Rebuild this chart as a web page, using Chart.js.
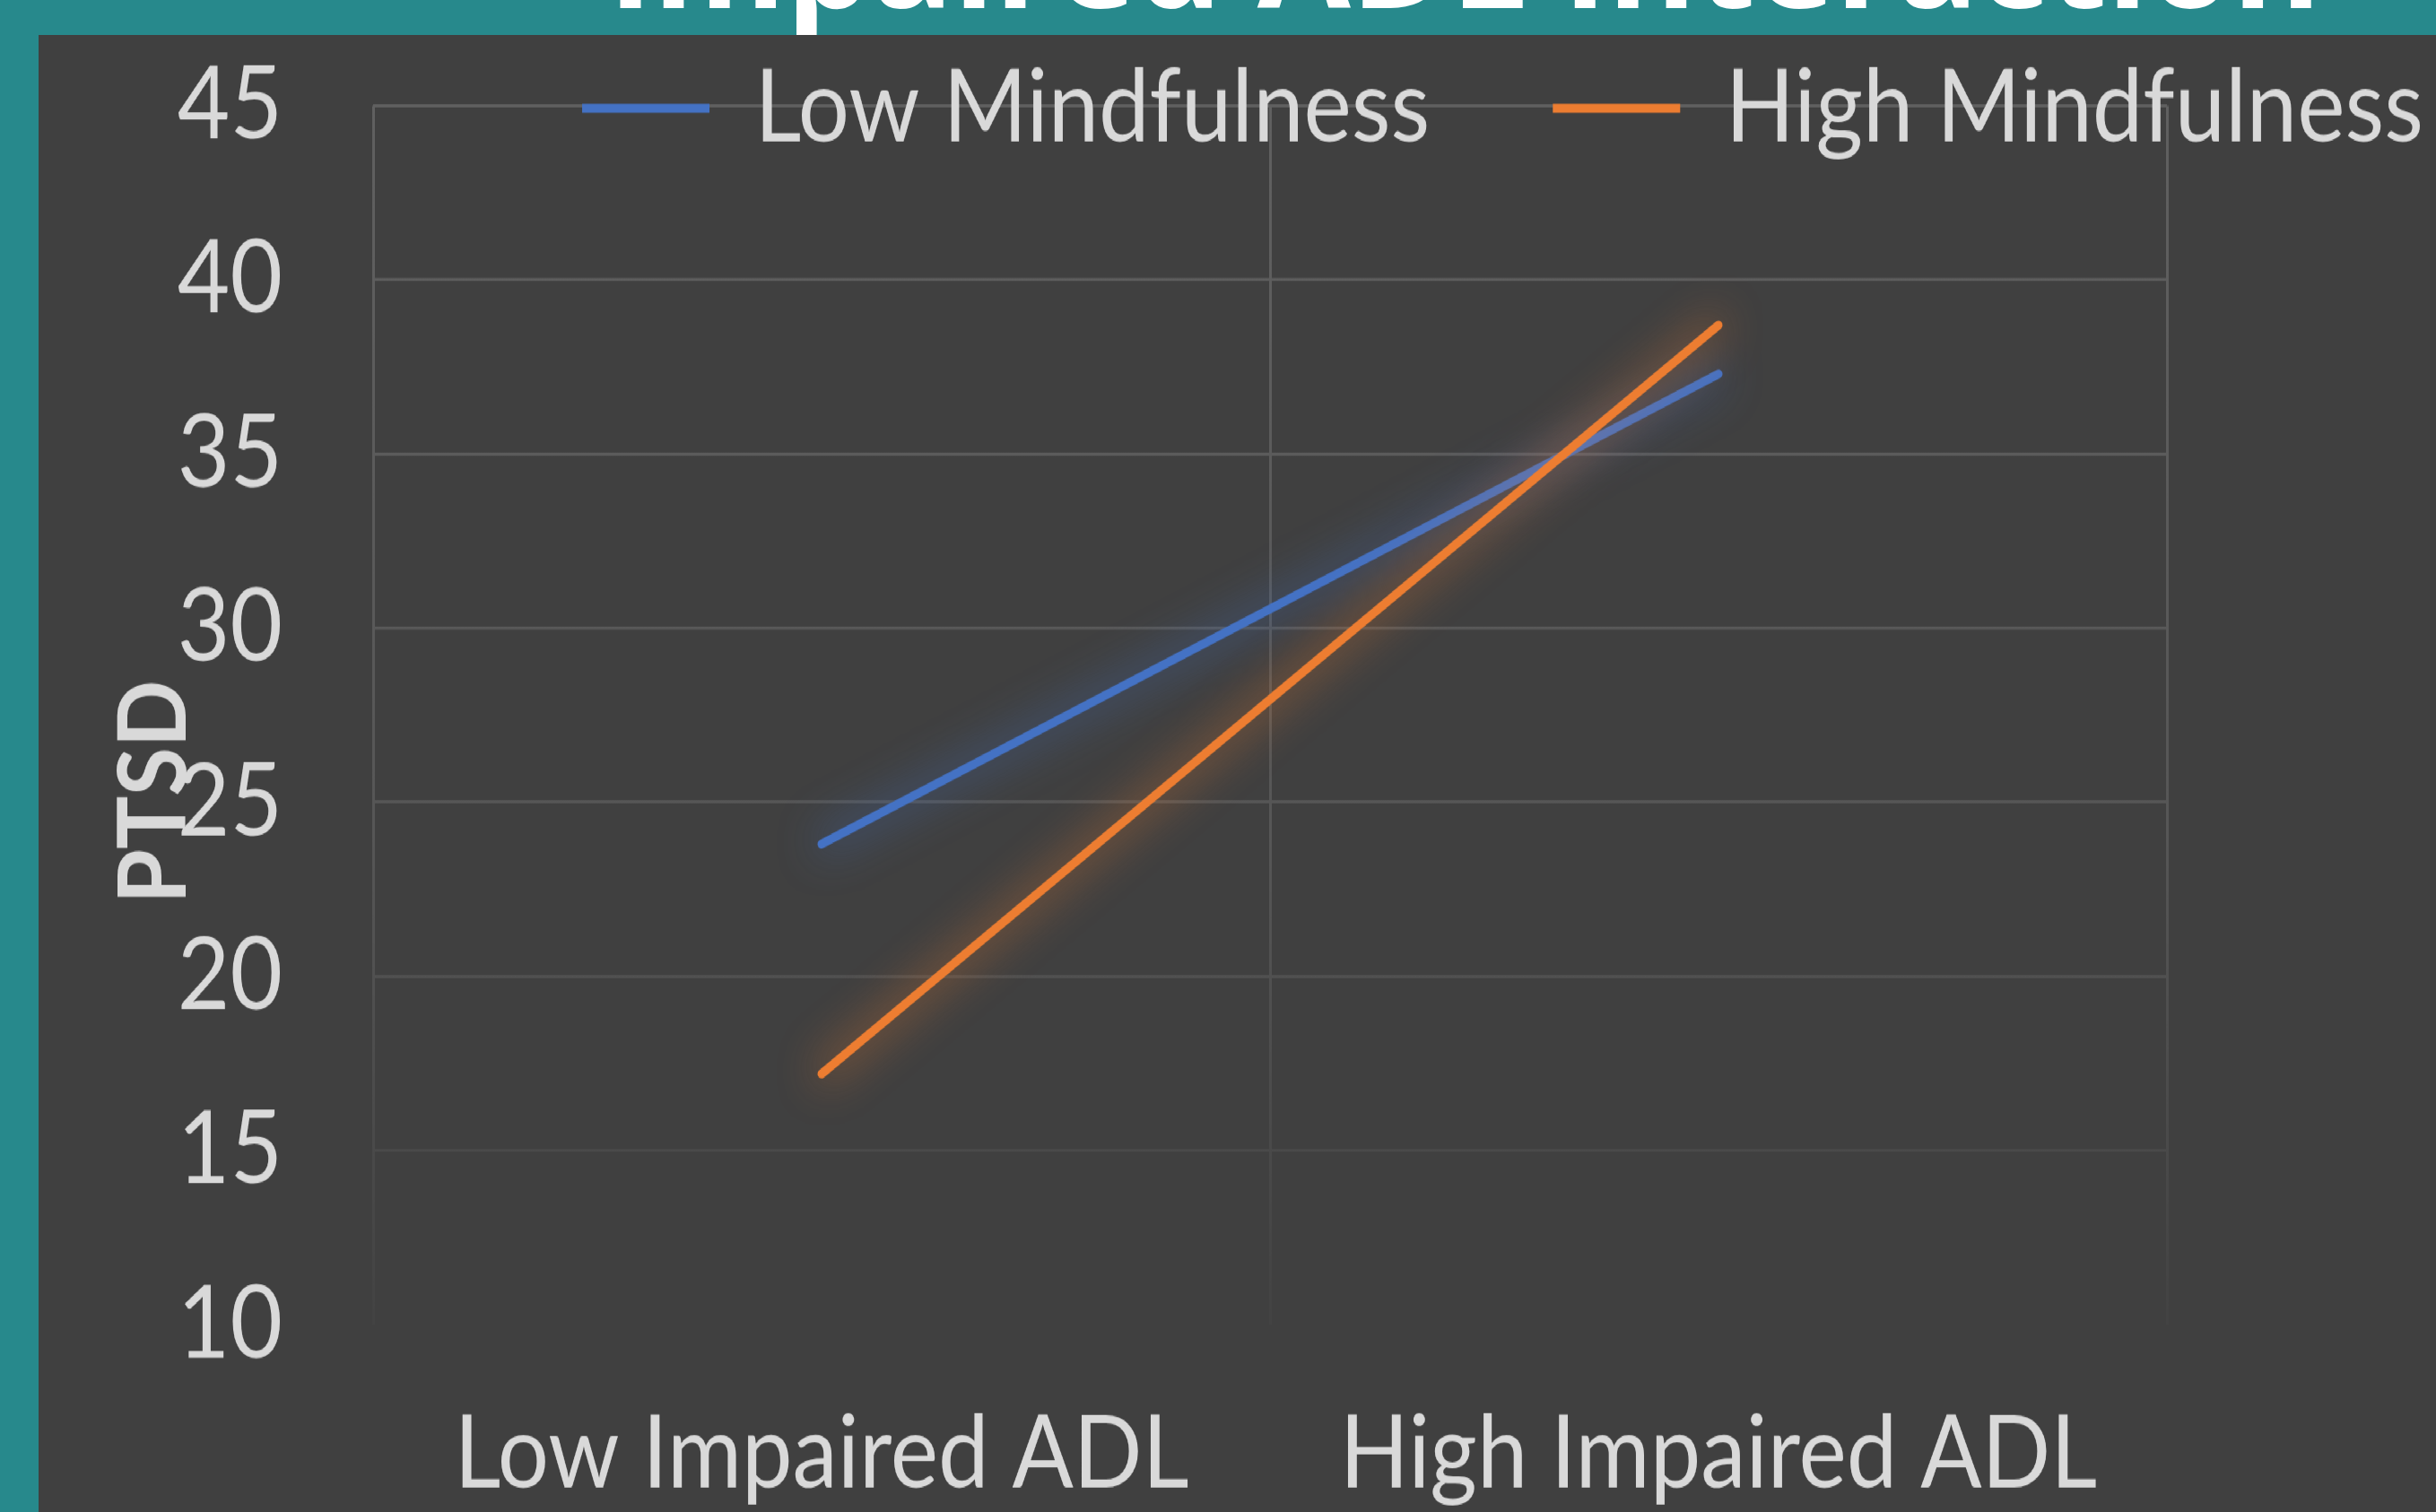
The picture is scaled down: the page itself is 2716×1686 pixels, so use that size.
<!DOCTYPE html>
<html>
<head>
<meta charset="utf-8">
<script src="https://cdn.jsdelivr.net/npm/chart.js@4.4.1/dist/chart.umd.min.js"></script>
<style>
  html, body { margin: 0; padding: 0; width: 2716px; height: 1686px; overflow: hidden; background: #27898c; }
  #heading {
    position: absolute; left: 678px; top: -125px;
    font-family: 'Open Sans', sans-serif; font-weight: 700;
    font-size: 151px; line-height: 151px; color: #ffffff; white-space: nowrap;
  }
  #frame {
    position: absolute; left: 43px; top: 39px; width: 2673px; height: 1471px;
    background: #404040; transform: scale(1, 1.12); transform-origin: 0 0;
  }
  canvas { display: block; }
</style>
</head>
<body>
<div id="heading">Impaired ADL Interaction</div>
<div id="frame"><canvas id="chart" width="2673" height="1471"></canvas></div>
<script>
// PTSD at low / high impaired ADL, one line per mindfulness group
const categories = ['Low Impaired ADL', 'High Impaired ADL'];
const seriesNames = ['Low Mindfulness', 'High Mindfulness'];
const lowMindfulness = [23.8, 37.3];
const highMindfulness = [17.2, 38.7];
const yMin = 10;
const yMax = 45;
const yStep = 5;
const yTitle = 'PTSD';

const TEXT = '#d9d9d9';
const FONT = "Lato, 'Open Sans', sans-serif";
const FS = 101;
const LEGEND_PAD = 137;
const PLOT_TOP = 70.5;
const BLUE = '#4472c4';
const ORANGE = '#ed7d31';

// soft glow around each line
const glow = {
  id: 'glow',
  beforeDatasetDraw(chart, args) {
    const ds = chart.data.datasets[args.index];
    chart.ctx.save();
    chart.ctx.shadowColor = ds.glowColor;
    chart.ctx.shadowBlur = 46;
  },
  afterDatasetDraw(chart) {
    chart.ctx.restore();
  }
};

// legend sits on the top gridline, over the plot, flush right
const legendShift = {
  id: 'legendShift',
  afterLayout(chart) {
    const lg = chart.legend;
    const dy = chart.chartArea.top + 2.5 - (lg.top + LEGEND_PAD + FS / 2);
    const dx = chart.width + LEGEND_PAD - 14 - lg.right;
    lg.top += dy; lg.bottom += dy;
    lg.left += dx; lg.right += dx;
  }
};

// rotated axis title beside the value labels
const axisTitle = {
  id: 'axisTitle',
  afterDraw(chart) {
    const { ctx, chartArea } = chart;
    ctx.save();
    ctx.translate(130, chartArea.top + (chartArea.bottom - chartArea.top) * 0.563);
    ctx.rotate(-Math.PI / 2);
    ctx.scale(0.84, 1);
    ctx.font = "bold 105px " + FONT;
    ctx.fillStyle = TEXT;
    ctx.textAlign = 'center';
    ctx.textBaseline = 'middle';
    ctx.fillText(yTitle, 0, 0);
    ctx.restore();
  }
};

function gridColor(context) {
  const area = context.chart.chartArea;
  if (!area) return '#5a5a5a';
  if (context.scale.axis === 'y' && context.tick && context.tick.value === yMin) return 'rgba(0,0,0,0)';
  const g = context.chart.ctx.createLinearGradient(0, area.top, 0, area.bottom);
  g.addColorStop(0, '#606060');
  g.addColorStop(0.6, '#565656');
  g.addColorStop(1, '#434343');
  return g;
}

new Chart(document.getElementById('chart'), {
  type: 'line',
  data: {
    labels: categories,
    datasets: [
      {
        label: seriesNames[0], data: lowMindfulness,
        borderColor: BLUE, backgroundColor: BLUE, glowColor: 'rgba(68,114,196,1)',
        borderWidth: 9, borderCapStyle: 'round', pointRadius: 0, order: 2
      },
      {
        label: seriesNames[1], data: highMindfulness,
        borderColor: ORANGE, backgroundColor: ORANGE, glowColor: 'rgba(237,125,49,1)',
        borderWidth: 9, borderCapStyle: 'round', pointRadius: 0, order: 1
      }
    ]
  },
  options: {
    responsive: false,
    animation: false,
    layout: { padding: { top: PLOT_TOP - (FS + LEGEND_PAD + 10), right: 300, bottom: 0, left: 0 } },
    plugins: {
      tooltip: { enabled: false },
      legend: {
        position: 'top',
        align: 'end',
        labels: {
          color: TEXT,
          font: { family: FONT, size: FS },
          boxWidth: 142,
          boxHeight: 9,
          padding: LEGEND_PAD,
          sort: (a, b) => a.datasetIndex - b.datasetIndex,
          generateLabels: (chart) =>
            Chart.defaults.plugins.legend.labels.generateLabels(chart).map(l => ({ ...l, lineWidth: 0 }))
        }
      }
    },
    scales: {
      x: {
        offset: true,
        grid: { offset: true, color: gridColor, lineWidth: 3, drawTicks: false },
        border: { display: false },
        ticks: { color: TEXT, font: { family: FONT, size: FS }, padding: 69, maxRotation: 0, minRotation: 0, autoSkip: false },
        afterFit: (s) => { s.height = 187; }
      },
      y: {
        min: yMin, max: yMax,
        grid: { color: gridColor, lineWidth: 3, drawTicks: false },
        border: { display: false },
        ticks: { stepSize: yStep, color: TEXT, font: { family: FONT, size: FS }, padding: 101 },
        afterFit: (s) => { s.width = 373; s.paddingTop = 0; s.paddingBottom = 0; }
      }
    }
  },
  plugins: [glow, legendShift, axisTitle]
});
</script>
</body>
</html>
